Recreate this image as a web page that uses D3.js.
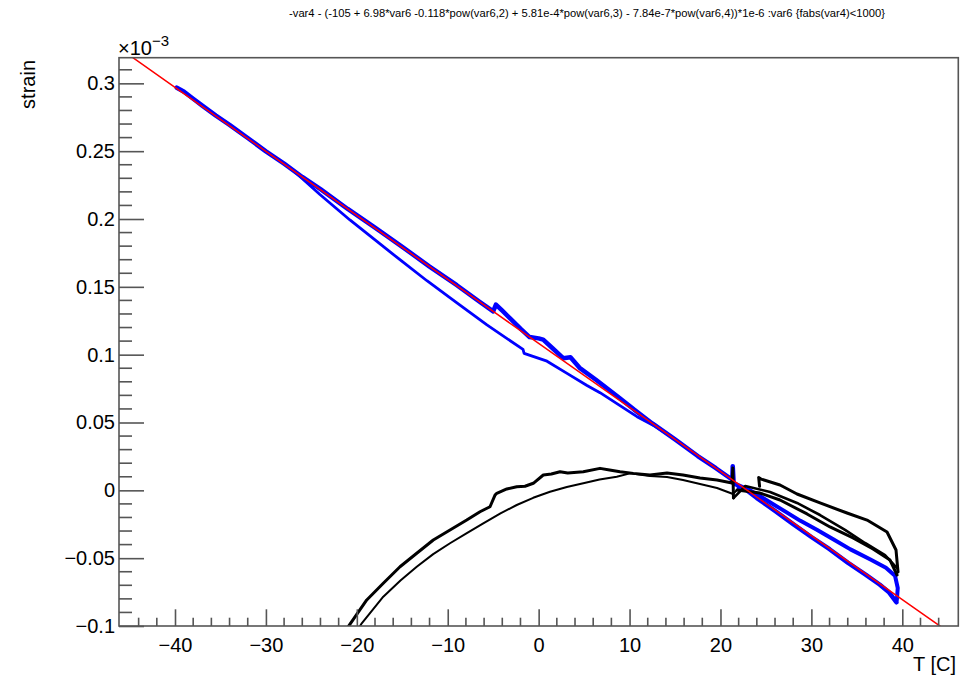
<!DOCTYPE html>
<html>
<head>
<meta charset="utf-8">
<script src="https://cdn.jsdelivr.net/npm/d3@7"></script>
<style>
  html, body { margin: 0; padding: 0; background: #fff; }
  svg { display: block; }
  text { font-family: "Liberation Sans", Arial, Helvetica, sans-serif; fill: #000; }
</style>
</head>
<body>
<svg id="chart" width="964" height="681"></svg>
<script>
// ---------------- DATA (strain in units of 1e-3, T in C) ----------------
const titleText = "-var4 - (-105 + 6.98*var6 -0.118*pow(var6,2) + 5.81e-4*pow(var6,3) - 7.84e-7*pow(var6,4))*1e-6 :var6 {fabs(var4)<1000}";
const xTickValues = [-40, -30, -20, -10, 0, 10, 20, 30, 40];
const xTickLabels = ["\u221240", "\u221230", "\u221220", "\u221210", "0", "10", "20", "30", "40"];
const yTickValues = [-0.1, -0.05, 0, 0.05, 0.1, 0.15, 0.2, 0.25, 0.3];
const yTickLabels = ["\u22120.1", "\u22120.05", "0", "0.05", "0.1", "0.15", "0.2", "0.25", "0.3"];
const xTitle = "T [C]";
const yTitle = "strain";

// red fit function
const redFit = [[-46,0.3254],[-40,0.2971],[-35,0.2735],[-30,0.2499],[-25,0.2263],[-20,0.2027],
  [-15,0.1791],[-10,0.1555],[-5,0.1319],[0,0.1083],[5,0.0847],[10,0.0611],[15,0.0375],
  [20,0.0139],[25,-0.0097],[30,-0.0333],[35,-0.0569],[40,-0.0805],[44.2,-0.1003]];

// blue: main branch
const blueMain = [[-39.8,0.2968],[-39.0,0.2938],[-38.0,0.2887],[-37.0,0.2836],[-35.5,0.2762],
  [-34.0,0.2694],[-32.0,0.2597],[-30.0,0.2499],[-28.0,0.2408],[-26.0,0.2310],[-24.0,0.2220],
  [-21.0,0.2074],[-18.0,0.1936],[-15.0,0.1795],[-12.0,0.1649],[-9.0,0.1512],[-6.5,0.1390],
  [-5.0,0.1319],[-4.7,0.1369],[-4.0,0.1324],[-3.0,0.1258],[-2.0,0.1192],[-1.0,0.1130],
  [0.0,0.1120],[0.5,0.1111],[1.5,0.1049],[2.7,0.0974],[3.5,0.0981],[4.5,0.0903],[6.3,0.0815],
  [8.9,0.0681],[10.5,0.0595],[12.5,0.0493],[15.0,0.0375],[17.5,0.0253],[19.5,0.0163],
  [21.3,0.0078],[21.35,0.0178],[21.45,0.0051],[22.5,0.0021],[24.0,-0.0057],[26.0,-0.0151],
  [28.0,-0.0249],[30.0,-0.0344],[32.0,-0.0434],[34.0,-0.0533],[36.0,-0.0623],[37.5,-0.0694],
  [38.5,-0.0749],[39.2,-0.0811],[39.35,-0.0825]];
// blue: lower (return) branch in the middle
const blueLower = [[-27.03,0.2359],[-24.06,0.2181],[-20.76,0.1993],[-15.26,0.1700],[-12.29,0.1545],
  [-8.99,0.1382],[-5.69,0.1219],[-1.72,0.1039],[-1.6,0.1010],[0.92,0.0952],[3.12,0.0862],[5.32,0.0773],
  [6.75,0.0720],[8.95,0.0624],[10.82,0.0543],[12.8,0.0472],[14.45,0.0401]];
// blue: upper loop at high temperature
const blueLoop = [[22.0,0.0020],[23.0,0.0010],[24.4,-0.0045],[26.6,-0.0135],[28.8,-0.0225],
  [30.6,-0.0290],[32.4,-0.0360],[34.3,-0.0435],[36.5,-0.0510],[38.2,-0.0570],[39.2,-0.0630],
  [39.5,-0.0720],[39.4,-0.0810]];

// black curves
const blackOuter = [[-21.4,-0.1045],[-20.94,-0.1005],[-18.91,-0.0808],[-17.09,-0.0685],[-15.25,-0.0563],
  [-13.41,-0.0464],[-11.59,-0.0366],[-9.75,-0.0292],[-7.91,-0.0219],[-6.45,-0.0158],[-5.35,-0.0121],
  [-4.8,-0.0035],[-4.61,-0.0022],[-3.5,0.0010],[-2.41,0.0027],[-1.5,0.0030],[-0.59,0.0052],
  [0.51,0.0113],[1.4,0.0120],[2.35,0.0137],[3.2,0.0128],[4.91,0.0137],[6.75,0.0162],[7.8,0.0150],
  [8.95,0.0137],[10.41,0.0125],[12.25,0.0113],[14.12,0.0128],[15.88,0.0113],[17.75,0.0091],
  [19.62,0.0076],[21.27,0.0054],[21.36,0.0165],[21.43,-0.0057]];
const blackInner = [[-20.0,-0.1040],[-19.46,-0.0980],[-17.09,-0.0784],[-15.2,-0.0665],[-13.41,-0.0563],
  [-11.6,-0.0470],[-9.75,-0.0390],[-7.9,-0.0315],[-6.09,-0.0243],[-4.2,-0.0170],[-2.41,-0.0108],
  [-0.6,-0.0055],[1.25,-0.0010],[3.1,0.0025],[4.91,0.0052],[6.7,0.0080],[8.59,0.0100],[10.05,0.0125],
  [12.25,0.0106],[14.12,0.0098],[15.88,0.0076],[17.75,0.0047],[19.62,0.0017],[21.38,-0.0027],[21.82,0.0002]];
const blackLoopTop = [[24.3,0.0030],[24.2,0.0095],[24.46,0.0083],[26.55,0.0039],[28.42,-0.0027],
  [30.95,-0.0093],[33.92,-0.0167],[36.12,-0.0219],[38.32,-0.0307],[39.31,-0.0440],[39.53,-0.0602]];
const blackLoopMid = [[21.43,-0.0057],[22.73,0.0032],[25.45,-0.0012],[28.42,-0.0093],[30.95,-0.0182],
  [33.70,-0.0292],[35.90,-0.0388],[38.10,-0.0477],[39.42,-0.0573]];
const blackLoopBottom = [[21.82,0.0002],[24.35,-0.0020],[26.55,-0.0071],[29.52,-0.0174],[32.05,-0.0270],
  [34.58,-0.0351],[36.78,-0.0432],[38.65,-0.0514],[39.42,-0.0624]];

// ---------------- LAYOUT ----------------
const W = 964, H = 681;
const frame = { left: 119, right: 958.3, top: 57.7, bottom: 626 };
const xDomain = [-46.16, 46.16];
const yDomain = [-0.1, 0.3189];

const svg = d3.select("#chart");
const x = d3.scaleLinear().domain(xDomain).range([frame.left, frame.right]);
const y = d3.scaleLinear().domain(yDomain).range([frame.bottom, frame.top]);

svg.append("defs").append("clipPath").attr("id", "clip")
  .append("rect").attr("x", frame.left).attr("y", frame.top)
  .attr("width", frame.right - frame.left).attr("height", frame.bottom - frame.top);

// title
svg.append("text").attr("x", 587).attr("y", 17).attr("text-anchor", "middle")
  .style("font-size", "11.2px").text(titleText);

const line = d3.line().x(d => x(d[0])).y(d => y(d[1]));
const g = svg.append("g").attr("clip-path", "url(#clip)");

function draw(data, color, width) {
  g.append("path").datum(data).attr("d", line)
    .attr("fill", "none").attr("stroke", color).attr("stroke-width", width)
    .attr("stroke-linejoin", "round").attr("stroke-linecap", "round");
}
draw(blueMain, "#0000ff", 4.5);
draw(blueLower, "#0000ff", 2.8);
draw(blueLoop, "#0000ff", 4);
draw(blackOuter, "#000", 3);
draw(blackInner, "#000", 2);
draw(blackLoopTop, "#000", 3);
draw(blackLoopMid, "#000", 2.6);
draw(blackLoopBottom, "#000", 3);
draw(redFit, "#ff0000", 1.5);

// frame
const axisColor = "#555";
svg.append("rect").attr("x", frame.left).attr("y", frame.top)
  .attr("width", frame.right - frame.left).attr("height", frame.bottom - frame.top)
  .attr("fill", "none").attr("stroke", axisColor).attr("stroke-width", 1.6);

// x axis ticks (inward)
const xAxis = d3.axisBottom(x).tickValues(xTickValues).tickSize(-16.7)
  .tickFormat((d, i) => xTickLabels[i]).tickPadding(8);
const gx = svg.append("g").attr("transform", `translate(0,${frame.bottom})`).call(xAxis);
gx.select(".domain").remove();
gx.selectAll(".tick line").attr("stroke", axisColor).attr("stroke-width", 1.6);
gx.selectAll(".tick text").style("font-size", "20px").attr("dy", "0.71em").attr("y", 12);
const xMinor = d3.range(-44, 45, 2).filter(v => v % 10 !== 0);
svg.append("g").selectAll("line").data(xMinor).join("line")
  .attr("x1", d => x(d)).attr("x2", d => x(d))
  .attr("y1", frame.bottom).attr("y2", frame.bottom - 8.3)
  .attr("stroke", axisColor).attr("stroke-width", 1.6);

// y axis ticks (inward)
const yAxis = d3.axisLeft(y).tickValues(yTickValues).tickSize(-25)
  .tickFormat((d, i) => yTickLabels[i]).tickPadding(4);
const gy = svg.append("g").attr("transform", `translate(${frame.left},0)`).call(yAxis);
gy.select(".domain").remove();
gy.selectAll(".tick line").attr("stroke", axisColor).attr("stroke-width", 1.6);
gy.selectAll(".tick text").style("font-size", "20px").attr("x", -4);
const yMinor = d3.range(-9, 32, 1).map(v => v / 100).filter(v => Math.abs((v * 100) % 5) > 1e-6);
svg.append("g").selectAll("line").data(yMinor).join("line")
  .attr("x1", frame.left).attr("x2", frame.left + 13)
  .attr("y1", d => y(d)).attr("y2", d => y(d))
  .attr("stroke", axisColor).attr("stroke-width", 1.6);

// exponent label
const ex = svg.append("text").attr("x", 118).attr("y", 55).style("font-size", "20px");
ex.append("tspan").text("\u00d710");
ex.append("tspan").attr("dy", -9).style("font-size", "15px").text("\u22123");

// axis titles
svg.append("text").attr("x", 956).attr("y", 671).attr("text-anchor", "end")
  .style("font-size", "20px").text(xTitle);
svg.append("text").attr("transform", "translate(35,60) rotate(-90)").attr("text-anchor", "end")
  .style("font-size", "20px").text(yTitle);
</script>
</body>
</html>
